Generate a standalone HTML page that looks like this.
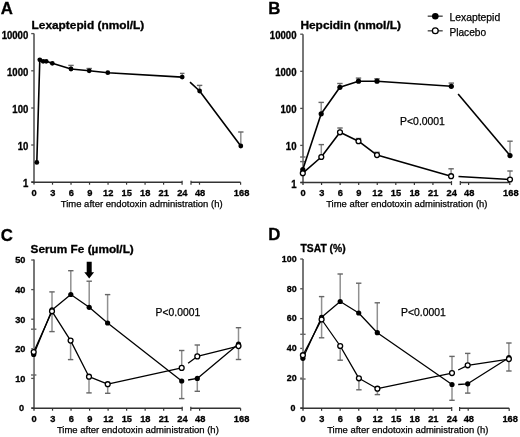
<!DOCTYPE html>
<html><head><meta charset="utf-8"><style>
html,body{margin:0;padding:0;background:#fff;width:520px;height:437px;overflow:hidden}
svg{display:block;font-family:"Liberation Sans", sans-serif;will-change:transform}
</style></head><body>
<svg width="520" height="437" viewBox="0 0 520 437">
<rect width="520" height="437" fill="#fff"/>
<text x="0.8" y="13.5" font-size="16.8" font-weight="bold" text-anchor="start" fill="#000" stroke="#000" stroke-width="0.3">A</text>
<text x="31.6" y="29" font-size="10.4" font-weight="bold" text-anchor="start" fill="#000" textLength="112.6" lengthAdjust="spacingAndGlyphs" stroke="#000" stroke-width="0.3">Lexaptepid (nmol/L)</text>
<line x1="34.0" y1="33.5" x2="34.0" y2="184.5" stroke="#777" stroke-width="2.0"/>
<line x1="31.2" y1="33.6" x2="34.0" y2="33.6" stroke="#505050" stroke-width="1.3"/>
<g transform="translate(28.3,38.6288) scale(1,1.05)"><text x="0" y="0" font-size="9.6" font-weight="bold" text-anchor="end" fill="#000" stroke="#000" stroke-width="0.3">10000</text></g>
<line x1="31.2" y1="70.8" x2="34.0" y2="70.8" stroke="#505050" stroke-width="1.3"/>
<g transform="translate(28.3,75.8288) scale(1,1.05)"><text x="0" y="0" font-size="9.6" font-weight="bold" text-anchor="end" fill="#000" stroke="#000" stroke-width="0.3">1000</text></g>
<line x1="31.2" y1="108" x2="34.0" y2="108" stroke="#505050" stroke-width="1.3"/>
<g transform="translate(28.3,113.0288) scale(1,1.05)"><text x="0" y="0" font-size="9.6" font-weight="bold" text-anchor="end" fill="#000" stroke="#000" stroke-width="0.3">100</text></g>
<line x1="31.2" y1="145" x2="34.0" y2="145" stroke="#505050" stroke-width="1.3"/>
<g transform="translate(28.3,150.02880000000002) scale(1,1.05)"><text x="0" y="0" font-size="9.6" font-weight="bold" text-anchor="end" fill="#000" stroke="#000" stroke-width="0.3">10</text></g>
<line x1="31.2" y1="182" x2="34.0" y2="182" stroke="#505050" stroke-width="1.3"/>
<g transform="translate(28.3,187.02880000000002) scale(1,1.05)"><text x="0" y="0" font-size="9.6" font-weight="bold" text-anchor="end" fill="#000" stroke="#000" stroke-width="0.3">1</text></g>
<line x1="31.4" y1="182.2" x2="182.1" y2="182.2" stroke="#333" stroke-width="1.4"/>
<line x1="191" y1="182.2" x2="240.6" y2="182.2" stroke="#333" stroke-width="1.4"/>
<line x1="182.1" y1="180.79999999999998" x2="182.1" y2="184.79999999999998" stroke="#333" stroke-width="1.2"/>
<line x1="191" y1="180.79999999999998" x2="191" y2="184.79999999999998" stroke="#333" stroke-width="1.2"/>
<line x1="240.6" y1="182.2" x2="240.6" y2="184.79999999999998" stroke="#333" stroke-width="1.2"/>
<g transform="translate(34.2,196.2) scale(1,1.05)"><text x="0" y="0" font-size="9.3" font-weight="bold" text-anchor="middle" fill="#000" stroke="#000" stroke-width="0.3">0</text></g>
<line x1="52.5125" y1="182.2" x2="52.5125" y2="184.7" stroke="#333" stroke-width="1.2"/>
<g transform="translate(52.712500000000006,196.2) scale(1,1.05)"><text x="0" y="0" font-size="9.3" font-weight="bold" text-anchor="middle" fill="#000" stroke="#000" stroke-width="0.3">3</text></g>
<line x1="71.025" y1="182.2" x2="71.025" y2="184.7" stroke="#333" stroke-width="1.2"/>
<g transform="translate(71.22500000000001,196.2) scale(1,1.05)"><text x="0" y="0" font-size="9.3" font-weight="bold" text-anchor="middle" fill="#000" stroke="#000" stroke-width="0.3">6</text></g>
<line x1="89.5375" y1="182.2" x2="89.5375" y2="184.7" stroke="#333" stroke-width="1.2"/>
<g transform="translate(89.7375,196.2) scale(1,1.05)"><text x="0" y="0" font-size="9.3" font-weight="bold" text-anchor="middle" fill="#000" stroke="#000" stroke-width="0.3">9</text></g>
<line x1="108.05" y1="182.2" x2="108.05" y2="184.7" stroke="#333" stroke-width="1.2"/>
<g transform="translate(108.25,196.2) scale(1,1.05)"><text x="0" y="0" font-size="9.3" font-weight="bold" text-anchor="middle" fill="#000" stroke="#000" stroke-width="0.3">12</text></g>
<line x1="126.5625" y1="182.2" x2="126.5625" y2="184.7" stroke="#333" stroke-width="1.2"/>
<g transform="translate(126.7625,196.2) scale(1,1.05)"><text x="0" y="0" font-size="9.3" font-weight="bold" text-anchor="middle" fill="#000" stroke="#000" stroke-width="0.3">15</text></g>
<line x1="145.075" y1="182.2" x2="145.075" y2="184.7" stroke="#333" stroke-width="1.2"/>
<g transform="translate(145.27499999999998,196.2) scale(1,1.05)"><text x="0" y="0" font-size="9.3" font-weight="bold" text-anchor="middle" fill="#000" stroke="#000" stroke-width="0.3">18</text></g>
<line x1="163.5875" y1="182.2" x2="163.5875" y2="184.7" stroke="#333" stroke-width="1.2"/>
<g transform="translate(163.7875,196.2) scale(1,1.05)"><text x="0" y="0" font-size="9.3" font-weight="bold" text-anchor="middle" fill="#000" stroke="#000" stroke-width="0.3">21</text></g>
<g transform="translate(182.29999999999998,196.2) scale(1,1.05)"><text x="0" y="0" font-size="9.3" font-weight="bold" text-anchor="middle" fill="#000" stroke="#000" stroke-width="0.3">24</text></g>
<line x1="199.5" y1="182.2" x2="199.5" y2="184.7" stroke="#333" stroke-width="1.2"/>
<g transform="translate(200.1,196.2) scale(1,1.05)"><text x="0" y="0" font-size="9.3" font-weight="bold" text-anchor="middle" fill="#000" stroke="#000" stroke-width="0.3">48</text></g>
<g transform="translate(241.6,196.2) scale(1,1.05)"><text x="0" y="0" font-size="9.3" font-weight="bold" text-anchor="middle" fill="#000" stroke="#000" stroke-width="0.3">168</text></g>
<text x="60.8" y="207" font-size="9.1" font-weight="normal" text-anchor="start" fill="#000" textLength="161.8" lengthAdjust="spacingAndGlyphs" stroke="#000" stroke-width="0.25">Time after endotoxin administration (h)</text>
<line x1="71" y1="69" x2="71" y2="65.4" stroke="#909090" stroke-width="1.5"/>
<line x1="68.3" y1="65.4" x2="73.7" y2="65.4" stroke="#666" stroke-width="1.4"/>
<line x1="89.2" y1="70.8" x2="89.2" y2="68.5" stroke="#909090" stroke-width="1.5"/>
<line x1="86.5" y1="68.5" x2="91.9" y2="68.5" stroke="#666" stroke-width="1.4"/>
<line x1="182.2" y1="77.1" x2="182.2" y2="73.4" stroke="#909090" stroke-width="1.5"/>
<line x1="179.95" y1="73.4" x2="184.45" y2="73.4" stroke="#666" stroke-width="1.4"/>
<line x1="199.6" y1="91" x2="199.6" y2="85.4" stroke="#909090" stroke-width="1.5"/>
<line x1="196.9" y1="85.4" x2="202.29999999999998" y2="85.4" stroke="#666" stroke-width="1.4"/>
<line x1="240.8" y1="146" x2="240.8" y2="132" stroke="#909090" stroke-width="1.5"/>
<line x1="238.10000000000002" y1="132" x2="243.5" y2="132" stroke="#666" stroke-width="1.4"/>
<polyline points="36.8,162.4 39.8,59.8 43.1,61.3 46.2,61.3 52.3,63.3 71,69 89.2,70.8 107.8,72.7 182.2,77.1" fill="none" stroke="#000" stroke-width="1.6" stroke-linejoin="round"/>
<polyline points="190,82.2 199.6,91 240.8,146" fill="none" stroke="#000" stroke-width="1.6" stroke-linejoin="round"/>
<circle cx="36.8" cy="162.4" r="2.4" fill="#000"/>
<circle cx="39.8" cy="59.8" r="2.4" fill="#000"/>
<circle cx="43.1" cy="61.3" r="2.4" fill="#000"/>
<circle cx="46.2" cy="61.3" r="2.4" fill="#000"/>
<circle cx="52.3" cy="63.3" r="2.4" fill="#000"/>
<circle cx="71" cy="69" r="2.4" fill="#000"/>
<circle cx="89.2" cy="70.8" r="2.4" fill="#000"/>
<circle cx="107.8" cy="72.7" r="2.4" fill="#000"/>
<circle cx="182.2" cy="77.1" r="2.4" fill="#000"/>
<circle cx="199.6" cy="91" r="2.4" fill="#000"/>
<circle cx="240.8" cy="146" r="2.4" fill="#000"/>
<text x="268.3" y="13.5" font-size="16.8" font-weight="bold" text-anchor="start" fill="#000" stroke="#000" stroke-width="0.3">B</text>
<text x="300.4" y="29" font-size="10.4" font-weight="bold" text-anchor="start" fill="#000" textLength="100.6" lengthAdjust="spacingAndGlyphs" stroke="#000" stroke-width="0.3">Hepcidin (nmol/L)</text>
<line x1="303.0" y1="34.2" x2="303.0" y2="185.0" stroke="#777" stroke-width="2.0"/>
<line x1="300.2" y1="34.2" x2="303.0" y2="34.2" stroke="#505050" stroke-width="1.3"/>
<g transform="translate(296.5,39.2288) scale(1,1.05)"><text x="0" y="0" font-size="9.6" font-weight="bold" text-anchor="end" fill="#000" stroke="#000" stroke-width="0.3">10000</text></g>
<line x1="300.2" y1="71.3" x2="303.0" y2="71.3" stroke="#505050" stroke-width="1.3"/>
<g transform="translate(296.5,76.3288) scale(1,1.05)"><text x="0" y="0" font-size="9.6" font-weight="bold" text-anchor="end" fill="#000" stroke="#000" stroke-width="0.3">1000</text></g>
<line x1="300.2" y1="108.4" x2="303.0" y2="108.4" stroke="#505050" stroke-width="1.3"/>
<g transform="translate(296.5,113.42880000000001) scale(1,1.05)"><text x="0" y="0" font-size="9.6" font-weight="bold" text-anchor="end" fill="#000" stroke="#000" stroke-width="0.3">100</text></g>
<line x1="300.2" y1="145.4" x2="303.0" y2="145.4" stroke="#505050" stroke-width="1.3"/>
<g transform="translate(296.5,150.42880000000002) scale(1,1.05)"><text x="0" y="0" font-size="9.6" font-weight="bold" text-anchor="end" fill="#000" stroke="#000" stroke-width="0.3">10</text></g>
<line x1="300.2" y1="182.5" x2="303.0" y2="182.5" stroke="#505050" stroke-width="1.3"/>
<g transform="translate(296.5,187.52880000000002) scale(1,1.05)"><text x="0" y="0" font-size="9.6" font-weight="bold" text-anchor="end" fill="#000" stroke="#000" stroke-width="0.3">1</text></g>
<line x1="300.4" y1="182.5" x2="451.5" y2="182.5" stroke="#333" stroke-width="1.4"/>
<line x1="460.3" y1="182.5" x2="509.8" y2="182.5" stroke="#333" stroke-width="1.4"/>
<line x1="451.5" y1="181.1" x2="451.5" y2="185.1" stroke="#333" stroke-width="1.2"/>
<line x1="460.3" y1="181.1" x2="460.3" y2="185.1" stroke="#333" stroke-width="1.2"/>
<line x1="509.8" y1="182.5" x2="509.8" y2="185.1" stroke="#333" stroke-width="1.2"/>
<g transform="translate(303.2,196.4) scale(1,1.05)"><text x="0" y="0" font-size="9.3" font-weight="bold" text-anchor="middle" fill="#000" stroke="#000" stroke-width="0.3">0</text></g>
<line x1="321.5625" y1="182.5" x2="321.5625" y2="185.0" stroke="#333" stroke-width="1.2"/>
<g transform="translate(321.7625,196.4) scale(1,1.05)"><text x="0" y="0" font-size="9.3" font-weight="bold" text-anchor="middle" fill="#000" stroke="#000" stroke-width="0.3">3</text></g>
<line x1="340.125" y1="182.5" x2="340.125" y2="185.0" stroke="#333" stroke-width="1.2"/>
<g transform="translate(340.325,196.4) scale(1,1.05)"><text x="0" y="0" font-size="9.3" font-weight="bold" text-anchor="middle" fill="#000" stroke="#000" stroke-width="0.3">6</text></g>
<line x1="358.6875" y1="182.5" x2="358.6875" y2="185.0" stroke="#333" stroke-width="1.2"/>
<g transform="translate(358.8875,196.4) scale(1,1.05)"><text x="0" y="0" font-size="9.3" font-weight="bold" text-anchor="middle" fill="#000" stroke="#000" stroke-width="0.3">9</text></g>
<line x1="377.25" y1="182.5" x2="377.25" y2="185.0" stroke="#333" stroke-width="1.2"/>
<g transform="translate(377.45,196.4) scale(1,1.05)"><text x="0" y="0" font-size="9.3" font-weight="bold" text-anchor="middle" fill="#000" stroke="#000" stroke-width="0.3">12</text></g>
<line x1="395.8125" y1="182.5" x2="395.8125" y2="185.0" stroke="#333" stroke-width="1.2"/>
<g transform="translate(396.0125,196.4) scale(1,1.05)"><text x="0" y="0" font-size="9.3" font-weight="bold" text-anchor="middle" fill="#000" stroke="#000" stroke-width="0.3">15</text></g>
<line x1="414.375" y1="182.5" x2="414.375" y2="185.0" stroke="#333" stroke-width="1.2"/>
<g transform="translate(414.575,196.4) scale(1,1.05)"><text x="0" y="0" font-size="9.3" font-weight="bold" text-anchor="middle" fill="#000" stroke="#000" stroke-width="0.3">18</text></g>
<line x1="432.9375" y1="182.5" x2="432.9375" y2="185.0" stroke="#333" stroke-width="1.2"/>
<g transform="translate(433.1375,196.4) scale(1,1.05)"><text x="0" y="0" font-size="9.3" font-weight="bold" text-anchor="middle" fill="#000" stroke="#000" stroke-width="0.3">21</text></g>
<g transform="translate(451.7,196.4) scale(1,1.05)"><text x="0" y="0" font-size="9.3" font-weight="bold" text-anchor="middle" fill="#000" stroke="#000" stroke-width="0.3">24</text></g>
<line x1="468.6" y1="182.5" x2="468.6" y2="185.0" stroke="#333" stroke-width="1.2"/>
<g transform="translate(469.20000000000005,196.4) scale(1,1.05)"><text x="0" y="0" font-size="9.3" font-weight="bold" text-anchor="middle" fill="#000" stroke="#000" stroke-width="0.3">48</text></g>
<g transform="translate(510.8,196.4) scale(1,1.05)"><text x="0" y="0" font-size="9.3" font-weight="bold" text-anchor="middle" fill="#000" stroke="#000" stroke-width="0.3">168</text></g>
<text x="326.2" y="207" font-size="9.1" font-weight="normal" text-anchor="start" fill="#000" textLength="161.3" lengthAdjust="spacingAndGlyphs" stroke="#000" stroke-width="0.25">Time after endotoxin administration (h)</text>
<line x1="427.7" y1="16.2" x2="442.7" y2="16.2" stroke="#555" stroke-width="1.5"/>
<circle cx="435.3" cy="16.2" r="3.3" fill="#000"/>
<line x1="427.7" y1="30.8" x2="442.7" y2="30.8" stroke="#555" stroke-width="1.5"/>
<circle cx="435.3" cy="30.8" r="2.9" fill="#fff" stroke="#000" stroke-width="1.3"/>
<text x="449.4" y="20.7" font-size="10.4" font-weight="normal" text-anchor="start" fill="#000" textLength="50.8" lengthAdjust="spacingAndGlyphs" stroke="#000" stroke-width="0.25">Lexaptepid</text>
<text x="449.4" y="35.7" font-size="10.4" font-weight="normal" text-anchor="start" fill="#000" textLength="36.7" lengthAdjust="spacingAndGlyphs" stroke="#000" stroke-width="0.25">Placebo</text>
<text x="400.1" y="124.8" font-size="10.2" font-weight="normal" text-anchor="start" fill="#000" textLength="44.8" lengthAdjust="spacingAndGlyphs" stroke="#000" stroke-width="0.25">P&lt;0.0001</text>
<line x1="302.8" y1="169.6" x2="302.8" y2="157" stroke="#909090" stroke-width="1.5"/>
<line x1="300.1" y1="157" x2="305.5" y2="157" stroke="#666" stroke-width="1.4"/>
<line x1="302.8" y1="173.2" x2="302.8" y2="161.6" stroke="#909090" stroke-width="1.5"/>
<line x1="300.1" y1="161.6" x2="305.5" y2="161.6" stroke="#666" stroke-width="1.4"/>
<line x1="321.2" y1="113.8" x2="321.2" y2="102.4" stroke="#909090" stroke-width="1.5"/>
<line x1="318.5" y1="102.4" x2="323.9" y2="102.4" stroke="#666" stroke-width="1.4"/>
<line x1="339.9" y1="87.3" x2="339.9" y2="83.5" stroke="#909090" stroke-width="1.5"/>
<line x1="337.2" y1="83.5" x2="342.59999999999997" y2="83.5" stroke="#666" stroke-width="1.4"/>
<line x1="358.5" y1="81.2" x2="358.5" y2="78.1" stroke="#909090" stroke-width="1.5"/>
<line x1="355.8" y1="78.1" x2="361.2" y2="78.1" stroke="#666" stroke-width="1.4"/>
<line x1="377" y1="81.2" x2="377" y2="78.8" stroke="#909090" stroke-width="1.5"/>
<line x1="374.3" y1="78.8" x2="379.7" y2="78.8" stroke="#666" stroke-width="1.4"/>
<line x1="451.3" y1="86.3" x2="451.3" y2="83.1" stroke="#909090" stroke-width="1.5"/>
<line x1="448.6" y1="83.1" x2="454.0" y2="83.1" stroke="#666" stroke-width="1.4"/>
<line x1="321.3" y1="157" x2="321.3" y2="144.6" stroke="#909090" stroke-width="1.5"/>
<line x1="318.6" y1="144.6" x2="324.0" y2="144.6" stroke="#666" stroke-width="1.4"/>
<line x1="340" y1="132.3" x2="340" y2="128" stroke="#909090" stroke-width="1.5"/>
<line x1="337.3" y1="128" x2="342.7" y2="128" stroke="#666" stroke-width="1.4"/>
<line x1="358.5" y1="141.2" x2="358.5" y2="138.5" stroke="#909090" stroke-width="1.5"/>
<line x1="355.8" y1="138.5" x2="361.2" y2="138.5" stroke="#666" stroke-width="1.4"/>
<line x1="377" y1="155.1" x2="377" y2="152.3" stroke="#909090" stroke-width="1.5"/>
<line x1="374.3" y1="152.3" x2="379.7" y2="152.3" stroke="#666" stroke-width="1.4"/>
<line x1="451.1" y1="176.2" x2="451.1" y2="168.8" stroke="#909090" stroke-width="1.5"/>
<line x1="448.40000000000003" y1="168.8" x2="453.8" y2="168.8" stroke="#666" stroke-width="1.4"/>
<line x1="510" y1="155.6" x2="510" y2="141.2" stroke="#909090" stroke-width="1.5"/>
<line x1="507.3" y1="141.2" x2="512.7" y2="141.2" stroke="#666" stroke-width="1.4"/>
<line x1="510" y1="179.5" x2="510" y2="171" stroke="#909090" stroke-width="1.5"/>
<line x1="507.3" y1="171" x2="512.7" y2="171" stroke="#666" stroke-width="1.4"/>
<polyline points="302.8,169.6 321.2,113.8 339.9,87.3 358.5,81.2 377,81.2 451.3,86.3" fill="none" stroke="#000" stroke-width="1.6" stroke-linejoin="round"/>
<polyline points="458.1,93.9 510,155.6" fill="none" stroke="#000" stroke-width="1.6" stroke-linejoin="round"/>
<polyline points="302.8,173.2 321.3,157 340,132.3 358.5,141.2 377,155.1 451.1,176.2" fill="none" stroke="#000" stroke-width="1.6" stroke-linejoin="round"/>
<polyline points="458.5,176.5 510,179.5" fill="none" stroke="#000" stroke-width="1.6" stroke-linejoin="round"/>
<circle cx="302.8" cy="169.6" r="2.6" fill="#000"/>
<circle cx="321.2" cy="113.8" r="2.6" fill="#000"/>
<circle cx="339.9" cy="87.3" r="2.6" fill="#000"/>
<circle cx="358.5" cy="81.2" r="2.6" fill="#000"/>
<circle cx="377" cy="81.2" r="2.6" fill="#000"/>
<circle cx="451.3" cy="86.3" r="2.6" fill="#000"/>
<circle cx="510" cy="155.6" r="2.6" fill="#000"/>
<circle cx="302.8" cy="173.2" r="2.45" fill="#fff" stroke="#000" stroke-width="1.3"/>
<circle cx="321.3" cy="157" r="2.45" fill="#fff" stroke="#000" stroke-width="1.3"/>
<circle cx="340" cy="132.3" r="2.45" fill="#fff" stroke="#000" stroke-width="1.3"/>
<circle cx="358.5" cy="141.2" r="2.45" fill="#fff" stroke="#000" stroke-width="1.3"/>
<circle cx="377" cy="155.1" r="2.45" fill="#fff" stroke="#000" stroke-width="1.3"/>
<circle cx="451.1" cy="176.2" r="2.45" fill="#fff" stroke="#000" stroke-width="1.3"/>
<circle cx="510" cy="179.5" r="2.45" fill="#fff" stroke="#000" stroke-width="1.3"/>
<text x="0.8" y="240.5" font-size="16.8" font-weight="bold" text-anchor="start" fill="#000" stroke="#000" stroke-width="0.3">C</text>
<text x="30.6" y="253.4" font-size="10.8" font-weight="bold" text-anchor="start" fill="#000" textLength="103.2" lengthAdjust="spacingAndGlyphs" stroke="#000" stroke-width="0.3">Serum Fe (µmol/L)</text>
<line x1="34.0" y1="259.6" x2="34.0" y2="410.7" stroke="#777" stroke-width="2.0"/>
<line x1="31.2" y1="260.0" x2="34.0" y2="260.0" stroke="#505050" stroke-width="1.3"/>
<g transform="translate(25.4,263.4776) scale(1,1.05)"><text x="0" y="0" font-size="9.2" font-weight="bold" text-anchor="end" fill="#000" stroke="#000" stroke-width="0.3">50</text></g>
<line x1="31.2" y1="289.6" x2="34.0" y2="289.6" stroke="#505050" stroke-width="1.3"/>
<g transform="translate(25.4,293.0776) scale(1,1.05)"><text x="0" y="0" font-size="9.2" font-weight="bold" text-anchor="end" fill="#000" stroke="#000" stroke-width="0.3">40</text></g>
<line x1="31.2" y1="319.2" x2="34.0" y2="319.2" stroke="#505050" stroke-width="1.3"/>
<g transform="translate(25.4,322.6776) scale(1,1.05)"><text x="0" y="0" font-size="9.2" font-weight="bold" text-anchor="end" fill="#000" stroke="#000" stroke-width="0.3">30</text></g>
<line x1="31.2" y1="348.8" x2="34.0" y2="348.8" stroke="#505050" stroke-width="1.3"/>
<g transform="translate(25.4,352.2776) scale(1,1.05)"><text x="0" y="0" font-size="9.2" font-weight="bold" text-anchor="end" fill="#000" stroke="#000" stroke-width="0.3">20</text></g>
<line x1="31.2" y1="378.4" x2="34.0" y2="378.4" stroke="#505050" stroke-width="1.3"/>
<g transform="translate(25.4,381.8776) scale(1,1.05)"><text x="0" y="0" font-size="9.2" font-weight="bold" text-anchor="end" fill="#000" stroke="#000" stroke-width="0.3">10</text></g>
<line x1="31.2" y1="408.0" x2="34.0" y2="408.0" stroke="#505050" stroke-width="1.3"/>
<g transform="translate(24.099999999999998,411.4776) scale(1,1.05)"><text x="0" y="0" font-size="9.2" font-weight="bold" text-anchor="end" fill="#000" stroke="#000" stroke-width="0.3">0</text></g>
<line x1="31.4" y1="408.2" x2="182.2" y2="408.2" stroke="#333" stroke-width="1.4"/>
<line x1="190.8" y1="408.2" x2="240.6" y2="408.2" stroke="#333" stroke-width="1.4"/>
<line x1="182.2" y1="406.8" x2="182.2" y2="410.8" stroke="#333" stroke-width="1.2"/>
<line x1="190.8" y1="406.8" x2="190.8" y2="410.8" stroke="#333" stroke-width="1.2"/>
<line x1="240.6" y1="408.2" x2="240.6" y2="410.8" stroke="#333" stroke-width="1.2"/>
<g transform="translate(34.2,422.3) scale(1,1.05)"><text x="0" y="0" font-size="9.3" font-weight="bold" text-anchor="middle" fill="#000" stroke="#000" stroke-width="0.3">0</text></g>
<line x1="52.525" y1="408.2" x2="52.525" y2="410.7" stroke="#333" stroke-width="1.2"/>
<g transform="translate(52.725,422.3) scale(1,1.05)"><text x="0" y="0" font-size="9.3" font-weight="bold" text-anchor="middle" fill="#000" stroke="#000" stroke-width="0.3">3</text></g>
<line x1="71.05" y1="408.2" x2="71.05" y2="410.7" stroke="#333" stroke-width="1.2"/>
<g transform="translate(71.25,422.3) scale(1,1.05)"><text x="0" y="0" font-size="9.3" font-weight="bold" text-anchor="middle" fill="#000" stroke="#000" stroke-width="0.3">6</text></g>
<line x1="89.57499999999999" y1="408.2" x2="89.57499999999999" y2="410.7" stroke="#333" stroke-width="1.2"/>
<g transform="translate(89.77499999999999,422.3) scale(1,1.05)"><text x="0" y="0" font-size="9.3" font-weight="bold" text-anchor="middle" fill="#000" stroke="#000" stroke-width="0.3">9</text></g>
<line x1="108.1" y1="408.2" x2="108.1" y2="410.7" stroke="#333" stroke-width="1.2"/>
<g transform="translate(108.3,422.3) scale(1,1.05)"><text x="0" y="0" font-size="9.3" font-weight="bold" text-anchor="middle" fill="#000" stroke="#000" stroke-width="0.3">12</text></g>
<line x1="126.625" y1="408.2" x2="126.625" y2="410.7" stroke="#333" stroke-width="1.2"/>
<g transform="translate(126.825,422.3) scale(1,1.05)"><text x="0" y="0" font-size="9.3" font-weight="bold" text-anchor="middle" fill="#000" stroke="#000" stroke-width="0.3">15</text></g>
<line x1="145.14999999999998" y1="408.2" x2="145.14999999999998" y2="410.7" stroke="#333" stroke-width="1.2"/>
<g transform="translate(145.34999999999997,422.3) scale(1,1.05)"><text x="0" y="0" font-size="9.3" font-weight="bold" text-anchor="middle" fill="#000" stroke="#000" stroke-width="0.3">18</text></g>
<line x1="163.67499999999998" y1="408.2" x2="163.67499999999998" y2="410.7" stroke="#333" stroke-width="1.2"/>
<g transform="translate(163.87499999999997,422.3) scale(1,1.05)"><text x="0" y="0" font-size="9.3" font-weight="bold" text-anchor="middle" fill="#000" stroke="#000" stroke-width="0.3">21</text></g>
<g transform="translate(182.39999999999998,422.3) scale(1,1.05)"><text x="0" y="0" font-size="9.3" font-weight="bold" text-anchor="middle" fill="#000" stroke="#000" stroke-width="0.3">24</text></g>
<line x1="199.6" y1="408.2" x2="199.6" y2="410.7" stroke="#333" stroke-width="1.2"/>
<g transform="translate(200.2,422.3) scale(1,1.05)"><text x="0" y="0" font-size="9.3" font-weight="bold" text-anchor="middle" fill="#000" stroke="#000" stroke-width="0.3">48</text></g>
<g transform="translate(241.6,422.3) scale(1,1.05)"><text x="0" y="0" font-size="9.3" font-weight="bold" text-anchor="middle" fill="#000" stroke="#000" stroke-width="0.3">168</text></g>
<text x="56.9" y="433" font-size="9.1" font-weight="normal" text-anchor="start" fill="#000" textLength="161.9" lengthAdjust="spacingAndGlyphs" stroke="#000" stroke-width="0.25">Time after endotoxin administration (h)</text>
<text x="155.6" y="315.9" font-size="10.2" font-weight="normal" text-anchor="start" fill="#000" textLength="44.6" lengthAdjust="spacingAndGlyphs" stroke="#000" stroke-width="0.25">P&lt;0.0001</text>
<path d="M86.7,261.8 h5 v10.5 h2.4 l-4.9,6.2 l-4.9,-6.2 h2.4 z" fill="#000"/>
<line x1="33.7" y1="352" x2="33.7" y2="329.2" stroke="#909090" stroke-width="1.5"/>
<line x1="31.000000000000004" y1="329.2" x2="36.400000000000006" y2="329.2" stroke="#666" stroke-width="1.4"/>
<line x1="33.7" y1="354.4" x2="33.7" y2="375" stroke="#909090" stroke-width="1.5"/>
<line x1="31.000000000000004" y1="375" x2="36.400000000000006" y2="375" stroke="#666" stroke-width="1.4"/>
<line x1="52" y1="309.9" x2="52" y2="291.9" stroke="#909090" stroke-width="1.5"/>
<line x1="49.3" y1="291.9" x2="54.7" y2="291.9" stroke="#666" stroke-width="1.4"/>
<line x1="52" y1="311.3" x2="52" y2="331.6" stroke="#909090" stroke-width="1.5"/>
<line x1="49.3" y1="331.6" x2="54.7" y2="331.6" stroke="#666" stroke-width="1.4"/>
<line x1="70.8" y1="294.5" x2="70.8" y2="270.7" stroke="#909090" stroke-width="1.5"/>
<line x1="68.1" y1="270.7" x2="73.5" y2="270.7" stroke="#666" stroke-width="1.4"/>
<line x1="89.2" y1="307.3" x2="89.2" y2="281.2" stroke="#909090" stroke-width="1.5"/>
<line x1="86.5" y1="281.2" x2="91.9" y2="281.2" stroke="#666" stroke-width="1.4"/>
<line x1="107.6" y1="323" x2="107.6" y2="294.6" stroke="#909090" stroke-width="1.5"/>
<line x1="104.89999999999999" y1="294.6" x2="110.3" y2="294.6" stroke="#666" stroke-width="1.4"/>
<line x1="181.7" y1="381" x2="181.7" y2="398.6" stroke="#909090" stroke-width="1.5"/>
<line x1="179.0" y1="398.6" x2="184.39999999999998" y2="398.6" stroke="#666" stroke-width="1.4"/>
<line x1="70.6" y1="340.6" x2="70.6" y2="359.6" stroke="#909090" stroke-width="1.5"/>
<line x1="67.89999999999999" y1="359.6" x2="73.3" y2="359.6" stroke="#666" stroke-width="1.4"/>
<line x1="89" y1="376.7" x2="89" y2="392.9" stroke="#909090" stroke-width="1.5"/>
<line x1="86.3" y1="392.9" x2="91.7" y2="392.9" stroke="#666" stroke-width="1.4"/>
<line x1="107.7" y1="384.2" x2="107.7" y2="393.3" stroke="#909090" stroke-width="1.5"/>
<line x1="105.0" y1="393.3" x2="110.4" y2="393.3" stroke="#666" stroke-width="1.4"/>
<line x1="181.7" y1="367.9" x2="181.7" y2="350.5" stroke="#909090" stroke-width="1.5"/>
<line x1="179.0" y1="350.5" x2="184.39999999999998" y2="350.5" stroke="#666" stroke-width="1.4"/>
<line x1="197.3" y1="378.4" x2="197.3" y2="391.3" stroke="#909090" stroke-width="1.5"/>
<line x1="194.60000000000002" y1="391.3" x2="200.0" y2="391.3" stroke="#666" stroke-width="1.4"/>
<line x1="197.3" y1="356.4" x2="197.3" y2="345" stroke="#909090" stroke-width="1.5"/>
<line x1="194.60000000000002" y1="345" x2="200.0" y2="345" stroke="#666" stroke-width="1.4"/>
<line x1="238.5" y1="344" x2="238.5" y2="327.7" stroke="#909090" stroke-width="1.5"/>
<line x1="235.8" y1="327.7" x2="241.2" y2="327.7" stroke="#666" stroke-width="1.4"/>
<line x1="238.5" y1="346.1" x2="238.5" y2="359.5" stroke="#909090" stroke-width="1.5"/>
<line x1="235.8" y1="359.5" x2="241.2" y2="359.5" stroke="#666" stroke-width="1.4"/>
<polyline points="33.7,354.4 52,309.9 70.8,294.5 89.2,307.3 107.6,323 181.7,381" fill="none" stroke="#000" stroke-width="1.3" stroke-linejoin="round"/>
<polyline points="188.1,380 197.3,378.4 238.5,344" fill="none" stroke="#000" stroke-width="1.3" stroke-linejoin="round"/>
<polyline points="33.7,352 52,311.3 70.6,340.6 89,376.7 107.7,384.2 181.7,367.9" fill="none" stroke="#000" stroke-width="1.3" stroke-linejoin="round"/>
<polyline points="188.1,363.3 197.3,356.4 238.5,346.1" fill="none" stroke="#000" stroke-width="1.3" stroke-linejoin="round"/>
<circle cx="33.7" cy="354.4" r="2.6" fill="#000"/>
<circle cx="52" cy="309.9" r="2.6" fill="#000"/>
<circle cx="70.8" cy="294.5" r="2.6" fill="#000"/>
<circle cx="89.2" cy="307.3" r="2.6" fill="#000"/>
<circle cx="107.6" cy="323" r="2.6" fill="#000"/>
<circle cx="181.7" cy="381" r="2.6" fill="#000"/>
<circle cx="197.3" cy="378.4" r="2.6" fill="#000"/>
<circle cx="238.5" cy="344" r="2.6" fill="#000"/>
<circle cx="33.7" cy="352" r="2.45" fill="#fff" stroke="#000" stroke-width="1.3"/>
<circle cx="52" cy="311.3" r="2.45" fill="#fff" stroke="#000" stroke-width="1.3"/>
<circle cx="70.6" cy="340.6" r="2.45" fill="#fff" stroke="#000" stroke-width="1.3"/>
<circle cx="89" cy="376.7" r="2.45" fill="#fff" stroke="#000" stroke-width="1.3"/>
<circle cx="107.7" cy="384.2" r="2.45" fill="#fff" stroke="#000" stroke-width="1.3"/>
<circle cx="181.7" cy="367.9" r="2.45" fill="#fff" stroke="#000" stroke-width="1.3"/>
<circle cx="197.3" cy="356.4" r="2.45" fill="#fff" stroke="#000" stroke-width="1.3"/>
<circle cx="238.5" cy="346.1" r="2.45" fill="#fff" stroke="#000" stroke-width="1.3"/>
<text x="268.3" y="240.3" font-size="16.8" font-weight="bold" text-anchor="start" fill="#000" stroke="#000" stroke-width="0.3">D</text>
<text x="300.5" y="252.0" font-size="10.8" font-weight="bold" text-anchor="start" fill="#000" textLength="45.2" lengthAdjust="spacingAndGlyphs" stroke="#000" stroke-width="0.3">TSAT (%)</text>
<line x1="303.0" y1="259" x2="303.0" y2="410.8" stroke="#777" stroke-width="2.0"/>
<line x1="300.2" y1="259.0" x2="303.0" y2="259.0" stroke="#505050" stroke-width="1.3"/>
<g transform="translate(296.7,261.8642) scale(1,1.05)"><text x="0" y="0" font-size="8.9" font-weight="bold" text-anchor="end" fill="#000" stroke="#000" stroke-width="0.3">100</text></g>
<line x1="300.2" y1="288.8" x2="303.0" y2="288.8" stroke="#505050" stroke-width="1.3"/>
<g transform="translate(296.7,291.6642) scale(1,1.05)"><text x="0" y="0" font-size="8.9" font-weight="bold" text-anchor="end" fill="#000" stroke="#000" stroke-width="0.3">80</text></g>
<line x1="300.2" y1="318.6" x2="303.0" y2="318.6" stroke="#505050" stroke-width="1.3"/>
<g transform="translate(296.7,321.4642) scale(1,1.05)"><text x="0" y="0" font-size="8.9" font-weight="bold" text-anchor="end" fill="#000" stroke="#000" stroke-width="0.3">60</text></g>
<line x1="300.2" y1="348.4" x2="303.0" y2="348.4" stroke="#505050" stroke-width="1.3"/>
<g transform="translate(296.7,351.26419999999996) scale(1,1.05)"><text x="0" y="0" font-size="8.9" font-weight="bold" text-anchor="end" fill="#000" stroke="#000" stroke-width="0.3">40</text></g>
<line x1="300.2" y1="378.2" x2="303.0" y2="378.2" stroke="#505050" stroke-width="1.3"/>
<g transform="translate(296.7,381.06419999999997) scale(1,1.05)"><text x="0" y="0" font-size="8.9" font-weight="bold" text-anchor="end" fill="#000" stroke="#000" stroke-width="0.3">20</text></g>
<line x1="300.2" y1="408.0" x2="303.0" y2="408.0" stroke="#505050" stroke-width="1.3"/>
<g transform="translate(295.4,410.8642) scale(1,1.05)"><text x="0" y="0" font-size="8.9" font-weight="bold" text-anchor="end" fill="#000" stroke="#000" stroke-width="0.3">0</text></g>
<line x1="300.4" y1="408.3" x2="451.7" y2="408.3" stroke="#333" stroke-width="1.4"/>
<line x1="459.6" y1="408.3" x2="509.2" y2="408.3" stroke="#333" stroke-width="1.4"/>
<line x1="451.7" y1="406.90000000000003" x2="451.7" y2="410.90000000000003" stroke="#333" stroke-width="1.2"/>
<line x1="459.6" y1="406.90000000000003" x2="459.6" y2="410.90000000000003" stroke="#333" stroke-width="1.2"/>
<line x1="509.2" y1="408.3" x2="509.2" y2="410.90000000000003" stroke="#333" stroke-width="1.2"/>
<g transform="translate(303.2,422.3) scale(1,1.05)"><text x="0" y="0" font-size="9.3" font-weight="bold" text-anchor="middle" fill="#000" stroke="#000" stroke-width="0.3">0</text></g>
<line x1="321.5875" y1="408.3" x2="321.5875" y2="410.8" stroke="#333" stroke-width="1.2"/>
<g transform="translate(321.78749999999997,422.3) scale(1,1.05)"><text x="0" y="0" font-size="9.3" font-weight="bold" text-anchor="middle" fill="#000" stroke="#000" stroke-width="0.3">3</text></g>
<line x1="340.175" y1="408.3" x2="340.175" y2="410.8" stroke="#333" stroke-width="1.2"/>
<g transform="translate(340.375,422.3) scale(1,1.05)"><text x="0" y="0" font-size="9.3" font-weight="bold" text-anchor="middle" fill="#000" stroke="#000" stroke-width="0.3">6</text></g>
<line x1="358.7625" y1="408.3" x2="358.7625" y2="410.8" stroke="#333" stroke-width="1.2"/>
<g transform="translate(358.9625,422.3) scale(1,1.05)"><text x="0" y="0" font-size="9.3" font-weight="bold" text-anchor="middle" fill="#000" stroke="#000" stroke-width="0.3">9</text></g>
<line x1="377.35" y1="408.3" x2="377.35" y2="410.8" stroke="#333" stroke-width="1.2"/>
<g transform="translate(377.55,422.3) scale(1,1.05)"><text x="0" y="0" font-size="9.3" font-weight="bold" text-anchor="middle" fill="#000" stroke="#000" stroke-width="0.3">12</text></g>
<line x1="395.9375" y1="408.3" x2="395.9375" y2="410.8" stroke="#333" stroke-width="1.2"/>
<g transform="translate(396.1375,422.3) scale(1,1.05)"><text x="0" y="0" font-size="9.3" font-weight="bold" text-anchor="middle" fill="#000" stroke="#000" stroke-width="0.3">15</text></g>
<line x1="414.525" y1="408.3" x2="414.525" y2="410.8" stroke="#333" stroke-width="1.2"/>
<g transform="translate(414.72499999999997,422.3) scale(1,1.05)"><text x="0" y="0" font-size="9.3" font-weight="bold" text-anchor="middle" fill="#000" stroke="#000" stroke-width="0.3">18</text></g>
<line x1="433.11249999999995" y1="408.3" x2="433.11249999999995" y2="410.8" stroke="#333" stroke-width="1.2"/>
<g transform="translate(433.31249999999994,422.3) scale(1,1.05)"><text x="0" y="0" font-size="9.3" font-weight="bold" text-anchor="middle" fill="#000" stroke="#000" stroke-width="0.3">21</text></g>
<g transform="translate(451.9,422.3) scale(1,1.05)"><text x="0" y="0" font-size="9.3" font-weight="bold" text-anchor="middle" fill="#000" stroke="#000" stroke-width="0.3">24</text></g>
<line x1="468.2" y1="408.3" x2="468.2" y2="410.8" stroke="#333" stroke-width="1.2"/>
<g transform="translate(468.8,422.3) scale(1,1.05)"><text x="0" y="0" font-size="9.3" font-weight="bold" text-anchor="middle" fill="#000" stroke="#000" stroke-width="0.3">48</text></g>
<g transform="translate(510.2,422.3) scale(1,1.05)"><text x="0" y="0" font-size="9.3" font-weight="bold" text-anchor="middle" fill="#000" stroke="#000" stroke-width="0.3">168</text></g>
<text x="327.2" y="433" font-size="9.1" font-weight="normal" text-anchor="start" fill="#000" textLength="161.1" lengthAdjust="spacingAndGlyphs" stroke="#000" stroke-width="0.25">Time after endotoxin administration (h)</text>
<text x="401.0" y="315.8" font-size="10.2" font-weight="normal" text-anchor="start" fill="#000" textLength="44.8" lengthAdjust="spacingAndGlyphs" stroke="#000" stroke-width="0.25">P&lt;0.0001</text>
<line x1="302.9" y1="355.2" x2="302.9" y2="334.3" stroke="#909090" stroke-width="1.5"/>
<line x1="300.2" y1="334.3" x2="305.59999999999997" y2="334.3" stroke="#666" stroke-width="1.4"/>
<line x1="302.9" y1="358.3" x2="302.9" y2="379" stroke="#909090" stroke-width="1.5"/>
<line x1="300.2" y1="379" x2="305.59999999999997" y2="379" stroke="#666" stroke-width="1.4"/>
<line x1="321.6" y1="317.3" x2="321.6" y2="296.6" stroke="#909090" stroke-width="1.5"/>
<line x1="318.90000000000003" y1="296.6" x2="324.3" y2="296.6" stroke="#666" stroke-width="1.4"/>
<line x1="321.6" y1="319.5" x2="321.6" y2="337.8" stroke="#909090" stroke-width="1.5"/>
<line x1="318.90000000000003" y1="337.8" x2="324.3" y2="337.8" stroke="#666" stroke-width="1.4"/>
<line x1="340.2" y1="301.5" x2="340.2" y2="274" stroke="#909090" stroke-width="1.5"/>
<line x1="337.5" y1="274" x2="342.9" y2="274" stroke="#666" stroke-width="1.4"/>
<line x1="358.7" y1="313" x2="358.7" y2="283.2" stroke="#909090" stroke-width="1.5"/>
<line x1="356.0" y1="283.2" x2="361.4" y2="283.2" stroke="#666" stroke-width="1.4"/>
<line x1="377.3" y1="332.7" x2="377.3" y2="302.8" stroke="#909090" stroke-width="1.5"/>
<line x1="374.6" y1="302.8" x2="380.0" y2="302.8" stroke="#666" stroke-width="1.4"/>
<line x1="452" y1="384.5" x2="452" y2="400.3" stroke="#909090" stroke-width="1.5"/>
<line x1="449.3" y1="400.3" x2="454.7" y2="400.3" stroke="#666" stroke-width="1.4"/>
<line x1="340.2" y1="346" x2="340.2" y2="360.2" stroke="#909090" stroke-width="1.5"/>
<line x1="337.5" y1="360.2" x2="342.9" y2="360.2" stroke="#666" stroke-width="1.4"/>
<line x1="358.9" y1="378.3" x2="358.9" y2="389.8" stroke="#909090" stroke-width="1.5"/>
<line x1="356.2" y1="389.8" x2="361.59999999999997" y2="389.8" stroke="#666" stroke-width="1.4"/>
<line x1="377.4" y1="388.7" x2="377.4" y2="394.6" stroke="#909090" stroke-width="1.5"/>
<line x1="374.7" y1="394.6" x2="380.09999999999997" y2="394.6" stroke="#666" stroke-width="1.4"/>
<line x1="452" y1="373.1" x2="452" y2="356.4" stroke="#909090" stroke-width="1.5"/>
<line x1="449.3" y1="356.4" x2="454.7" y2="356.4" stroke="#666" stroke-width="1.4"/>
<line x1="467.7" y1="383.8" x2="467.7" y2="393.1" stroke="#909090" stroke-width="1.5"/>
<line x1="465.0" y1="393.1" x2="470.4" y2="393.1" stroke="#666" stroke-width="1.4"/>
<line x1="467.7" y1="365.3" x2="467.7" y2="353.4" stroke="#909090" stroke-width="1.5"/>
<line x1="465.0" y1="353.4" x2="470.4" y2="353.4" stroke="#666" stroke-width="1.4"/>
<line x1="508.9" y1="357.7" x2="508.9" y2="343" stroke="#909090" stroke-width="1.5"/>
<line x1="506.2" y1="343" x2="511.59999999999997" y2="343" stroke="#666" stroke-width="1.4"/>
<line x1="508.9" y1="359.1" x2="508.9" y2="371" stroke="#909090" stroke-width="1.5"/>
<line x1="506.2" y1="371" x2="511.59999999999997" y2="371" stroke="#666" stroke-width="1.4"/>
<polyline points="302.9,358.3 321.6,317.3 340.2,301.5 358.7,313 377.3,332.7 452,384.5" fill="none" stroke="#000" stroke-width="1.3" stroke-linejoin="round"/>
<polyline points="458.2,384.5 467.7,383.8 508.9,357.7" fill="none" stroke="#000" stroke-width="1.3" stroke-linejoin="round"/>
<polyline points="302.9,355.2 321.6,319.5 340.2,346 358.9,378.3 377.4,388.7 452,373.1" fill="none" stroke="#000" stroke-width="1.3" stroke-linejoin="round"/>
<polyline points="458.2,370 467.7,365.3 508.9,359.1" fill="none" stroke="#000" stroke-width="1.3" stroke-linejoin="round"/>
<circle cx="302.9" cy="358.3" r="2.6" fill="#000"/>
<circle cx="321.6" cy="317.3" r="2.6" fill="#000"/>
<circle cx="340.2" cy="301.5" r="2.6" fill="#000"/>
<circle cx="358.7" cy="313" r="2.6" fill="#000"/>
<circle cx="377.3" cy="332.7" r="2.6" fill="#000"/>
<circle cx="452" cy="384.5" r="2.6" fill="#000"/>
<circle cx="467.7" cy="383.8" r="2.6" fill="#000"/>
<circle cx="508.9" cy="357.7" r="2.6" fill="#000"/>
<circle cx="302.9" cy="355.2" r="2.45" fill="#fff" stroke="#000" stroke-width="1.3"/>
<circle cx="321.6" cy="319.5" r="2.45" fill="#fff" stroke="#000" stroke-width="1.3"/>
<circle cx="340.2" cy="346" r="2.45" fill="#fff" stroke="#000" stroke-width="1.3"/>
<circle cx="358.9" cy="378.3" r="2.45" fill="#fff" stroke="#000" stroke-width="1.3"/>
<circle cx="377.4" cy="388.7" r="2.45" fill="#fff" stroke="#000" stroke-width="1.3"/>
<circle cx="452" cy="373.1" r="2.45" fill="#fff" stroke="#000" stroke-width="1.3"/>
<circle cx="467.7" cy="365.3" r="2.45" fill="#fff" stroke="#000" stroke-width="1.3"/>
<circle cx="508.9" cy="359.1" r="2.45" fill="#fff" stroke="#000" stroke-width="1.3"/>
</svg>
</body></html>
